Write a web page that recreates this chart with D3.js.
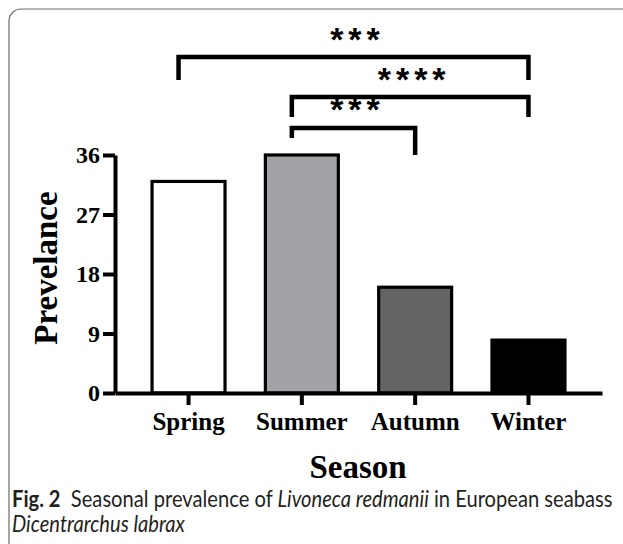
<!DOCTYPE html>
<html><head><meta charset="utf-8">
<script src="https://cdn.jsdelivr.net/npm/d3@7"></script>
<style>
html,body{margin:0;padding:0;background:#fff;}
svg{display:block;}
</style></head>
<body>
<svg id="chart" width="623" height="544"></svg>
<script>
const seasons = ["Spring", "Summer", "Autumn", "Winter"];
const prevalence = [32, 36, 16, 8];
const barFills = ["#ffffff", "#a3a2a7", "#646464", "#000000"];
const yTicks = [0, 9, 18, 27, 36];
const comparisons = [
  {from: "Spring", to: "Winter", label: "***"},
  {from: "Summer", to: "Winter", label: "****"},
  {from: "Summer", to: "Autumn", label: "***"}
];
const yAxisTitle = "Prevelance";
const xAxisTitle = "Season";

const svg = d3.select("#chart");
const serif = "'Liberation Serif','Times New Roman',serif";

// card frame
svg.append("rect").attr("x", 9).attr("y", 9).attr("width", 640).attr("height", 545)
  .attr("rx", 12).attr("fill", "none").attr("stroke", "#6b6b6b").attr("stroke-width", 1.2);

const x = d3.scaleBand().domain(seasons).range([115, 602]).paddingInner(0.356).paddingOuter(0.327);
const y = d3.scaleLinear().domain([0, 36]).range([393, 155]);

// bars
svg.append("g").selectAll("rect").data(seasons).join("rect")
  .attr("x", d => x(d))
  .attr("y", (d, i) => y(prevalence[i]))
  .attr("width", x.bandwidth())
  .attr("height", (d, i) => y(0) - y(prevalence[i]))
  .attr("fill", (d, i) => barFills[i])
  .attr("stroke", "#000").attr("stroke-width", 3.2);

// y axis
const yAxis = svg.append("g").attr("transform", "translate(115,0)")
  .call(d3.axisLeft(y).tickValues(yTicks).tickSize(12).tickPadding(3).tickSizeOuter(0));
yAxis.select(".domain").attr("stroke-width", 4).attr("stroke", "#000");
yAxis.selectAll(".tick line").attr("stroke-width", 4).attr("stroke", "#000");
yAxis.selectAll(".tick text").attr("font-family", serif).attr("font-weight", "bold")
  .attr("font-size", 24).attr("fill", "#000");

// x axis
const xAxis = svg.append("g").attr("transform", "translate(0,393)")
  .call(d3.axisBottom(x).tickSize(12).tickPadding(7).tickSizeOuter(0));
xAxis.select(".domain").attr("stroke-width", 4).attr("stroke", "#000");
xAxis.selectAll(".tick line").attr("stroke-width", 4).attr("stroke", "#000");
xAxis.selectAll(".tick text").attr("font-family", serif).attr("font-weight", "bold")
  .attr("font-size", 25).attr("fill", "#000");

// axis titles
svg.append("text").attr("transform", "translate(57,268) rotate(-90)")
  .attr("text-anchor", "middle").attr("font-family", serif).attr("font-weight", "bold")
  .attr("font-size", 33).text(yAxisTitle);
svg.append("text").attr("x", 358).attr("y", 478)
  .attr("text-anchor", "middle").attr("font-family", serif).attr("font-weight", "bold")
  .attr("font-size", 33).text(xAxisTitle);

// significance brackets
const bracketLayout = [
  {yTop: 57, leftDrop: 80, rightDrop: 80, labelY: 51},
  {yTop: 97, leftDrop: 117, rightDrop: 117, labelY: 91},
  {yTop: 128, leftDrop: 138, rightDrop: 155, labelY: 121}
];
const cx = d => x(d) + x.bandwidth() / 2;
const bg = svg.append("g");
comparisons.forEach((c, i) => {
  const L = bracketLayout[i];
  const x1 = cx(c.from) - 10, x2 = cx(c.to);
  bg.append("path")
    .attr("d", `M${x1},${L.leftDrop}V${L.yTop}H${x2}V${L.rightDrop}`)
    .attr("fill", "none").attr("stroke", "#000").attr("stroke-width", 4.5);
  bg.append("text").attr("x", (x1 + x2) / 2 + 4).attr("y", L.labelY)
    .attr("text-anchor", "middle").attr("font-family", "'Liberation Sans',Arial,sans-serif")
    .attr("font-weight", "bold").attr("font-size", 34).attr("letter-spacing", 5)
    .text(c.label);
});

// caption (slightly stretched vertically to mimic the narrower original face)
const capFont = "Lato,'Noto Sans',sans-serif";
const capG = svg.append("g").attr("transform", "translate(12,0) scale(1,1.15)");
const cap1 = capG.append("text").attr("x", 0).attr("y", 507 / 1.15).attr("font-family", capFont)
  .attr("font-size", 18).attr("fill", "#231f20");
cap1.append("tspan").attr("font-weight", "bold").text("Fig. 2");
cap1.append("tspan").text("\u00a0 Seasonal prevalence of ");
cap1.append("tspan").attr("font-style", "italic").text("Livoneca redmanii");
cap1.append("tspan").text(" in European seabass");
const w = cap1.node().getComputedTextLength();
const fs = 18 * 600 / w;
cap1.attr("font-size", fs);
capG.append("text").attr("x", 0).attr("y", 532 / 1.15).attr("font-family", capFont)
  .attr("font-size", fs).attr("font-style", "italic").attr("fill", "#231f20")
  .text("Dicentrarchus labrax");
</script>
</body></html>
